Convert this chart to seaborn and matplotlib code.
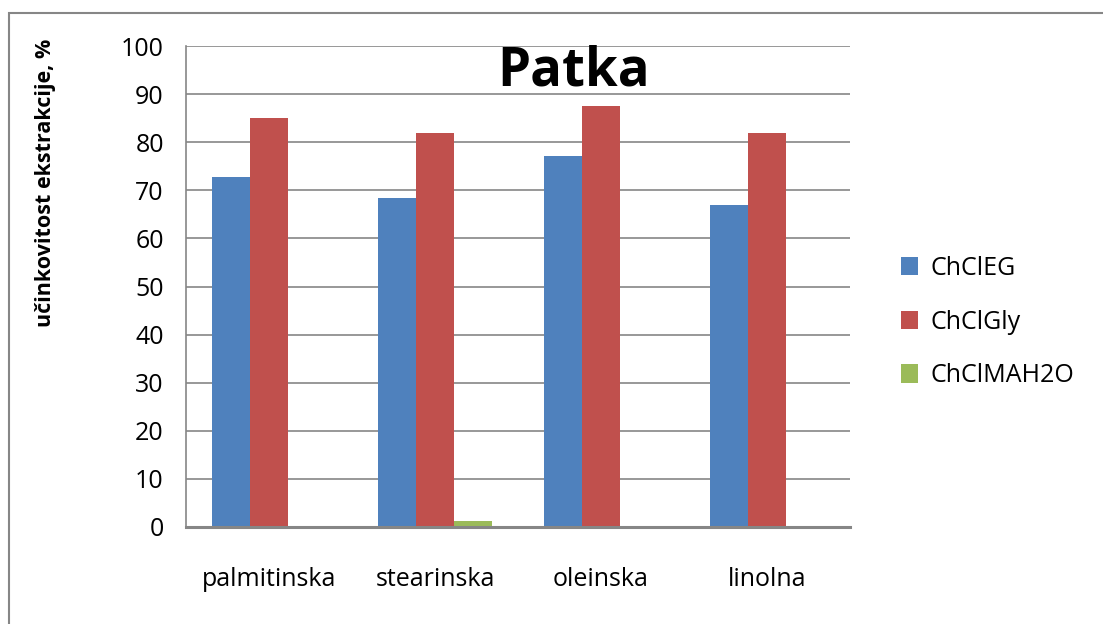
import matplotlib
matplotlib.use("Agg")
import matplotlib.pyplot as plt
import seaborn as sns
import pandas as pd
from matplotlib.patches import Rectangle

categories = ["palmitinska", "stearinska", "oleinska", "linolna"]
series = ["ChClEG", "ChClGly", "ChClMAH2O"]
chcleg = [72.8, 68.4, 77.1, 67.0]
chclgly = [85.0, 81.9, 87.5, 81.9]
chclmah2o = [0.0, 1.2, 0.0, 0.0]
yticks = [0, 10, 20, 30, 40, 50, 60, 70, 80, 90, 100]
title = "Patka"
ylabel = "učinkovitost ekstrakcije, %"

colors = ["#4F81BD", "#C0504D", "#9BBB59"]

rows = []
for name, vals in zip(series, [chcleg, chclgly, chclmah2o]):
    for c, v in zip(categories, vals):
        rows.append({"kat": c, "serija": name, "vrijednost": v})
df = pd.DataFrame(rows)

sns.set_theme(style="white")
plt.rcParams["font.family"] = ["Open Sans", "DejaVu Sans"]
plt.rcParams["text.color"] = "black"

FS = 18
W, H = 1103, 624
fig = plt.figure(figsize=(W / 100, H / 100), dpi=100)
ax = fig.add_axes([186 / W, 1 - 527 / H, (850 - 186) / W, (527 - 46) / H])

sns.barplot(data=df, x="kat", y="vrijednost", hue="serija", order=categories,
            hue_order=series, palette=colors, width=0.69, gap=0,
            saturation=1, ax=ax, legend=True)
for p in ax.patches:
    p.set_edgecolor("none")
    p.set_linewidth(0)

ax.set_xlim(-0.5, len(categories) - 0.5)
ax.set_ylim(0, 100)
ax.set_yticks(yticks)
ax.set_yticklabels([str(t) for t in yticks], fontsize=FS, color="black")
ax.set_xticks(range(len(categories)))
ax.set_xticklabels(categories, fontsize=FS, color="black")
ax.set_xticks([i - 0.5 for i in range(len(categories) + 1)], minor=True)
ax.tick_params(axis="x", which="major", length=0, pad=29)
ax.tick_params(axis="x", which="minor", length=8, width=1.5, color="#868686", direction="out")
ax.tick_params(axis="y", which="major", length=7, width=1.2, color="#868686", direction="out", pad=9)
ax.set_xlabel("")
ax.set_ylabel("")
ax.yaxis.grid(True, color="#868686", linewidth=1.2)
ax.set_axisbelow(True)
for s in ["top", "right"]:
    ax.spines[s].set_visible(False)
ax.spines["left"].set_color("#868686")
ax.spines["left"].set_linewidth(1.2)
ax.spines["bottom"].set_color("#868686")
ax.spines["bottom"].set_linewidth(2.2)
ax.spines["bottom"].set_zorder(5)

handles, labels = ax.get_legend_handles_labels()
ax.get_legend().remove()
fig.legend(handles, labels, loc="center left", bbox_to_anchor=(878 / W, 1 - 322 / H),
           frameon=False, fontsize=FS, handlelength=0.68, handleheight=0.75,
           labelspacing=1.15, handletextpad=0.5, labelcolor="black")

fig.text(574 / W, 1 - 72 / H, title, fontsize=38, fontweight="bold", ha="center", va="center",
         color="black")
fig.text(45 / W, 1 - 183 / H, ylabel, fontsize=15.5, fontweight="bold", rotation=90,
         ha="center", va="center", color="black")

fig.patches.append(Rectangle((9 / W, -0.05), 1.2, 1 - 13 / H + 0.05, transform=fig.transFigure,
                             fill=False, edgecolor="#868686", linewidth=1.5))

fig.savefig("out.png", dpi=100)
